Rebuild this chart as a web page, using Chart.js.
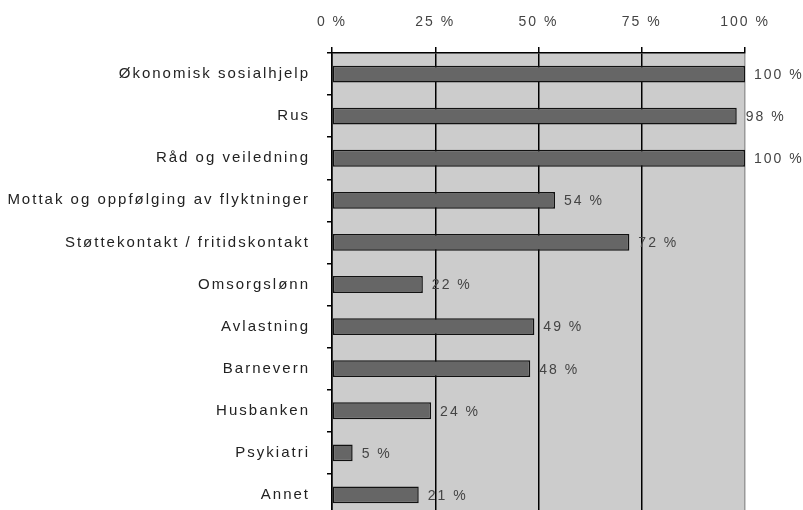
<!DOCTYPE html>
<html>
<head>
<meta charset="utf-8">
<script src="https://cdn.jsdelivr.net/npm/chart.js@4"></script>
<style>
  html, body { margin: 0; padding: 0; background: #fff; overflow: hidden; }
  #chart { display: block; }
</style>
</head>
<body>
<canvas id="chart" width="803" height="542"></canvas>
<script>
const categories = [
  "Økonomisk sosialhjelp",
  "Rus",
  "Råd og veiledning",
  "Mottak og oppfølging av flyktninger",
  "Støttekontakt / fritidskontakt",
  "Omsorgslønn",
  "Avlastning",
  "Barnevern",
  "Husbanken",
  "Psykiatri",
  "Annet"
];
const values = [100, 98, 100, 54, 72, 22, 49, 48, 24, 5, 21];
const xTicks = [0, 25, 50, 75, 100];

// wide letter spacing like the scanned original
const spacing = {
  id: "spacing",
  beforeUpdate(chart) { chart.ctx.letterSpacing = "2px"; },
  beforeLayout(chart) { chart.ctx.letterSpacing = "2px"; },
  beforeDraw(chart) { chart.ctx.letterSpacing = "2px"; }
};

const plotBg = {
  id: "plotBg",
  beforeDraw(chart) {
    const { ctx, chartArea: a } = chart;
    ctx.save();
    ctx.fillStyle = "#cccccc";
    ctx.fillRect(a.left, a.top, a.right - a.left, a.bottom - a.top);
    ctx.restore();
  }
};

const valueLabels = {
  id: "valueLabels",
  afterDatasetsDraw(chart) {
    const ctx = chart.ctx;
    const bars = chart.getDatasetMeta(0).data;
    ctx.save();
    ctx.font = "14px 'Liberation Sans', Arial, sans-serif";
    ctx.fillStyle = "#444";
    ctx.textAlign = "left";
    ctx.textBaseline = "middle";
    bars.forEach((bar, i) => {
      ctx.fillText(values[i] + " %", bar.x + 9, bar.y + 1);
    });
    ctx.restore();
  }
};

new Chart(document.getElementById("chart"), {
  type: "bar",
  data: {
    labels: categories,
    datasets: [{
      data: values,
      backgroundColor: "#666666",
      borderColor: "#111",
      borderWidth: 1.5,
      borderSkipped: false,
      barPercentage: 0.4,
      categoryPercentage: 1
    }]
  },
  options: {
    indexAxis: "y",
    responsive: false,
    animation: false,
    devicePixelRatio: 1,
    layout: { padding: { left: 0, right: 58, top: 0, bottom: 1 } },
    plugins: {
      legend: { display: false },
      tooltip: { enabled: false }
    },
    scales: {
      x: {
        position: "top",
        min: 0,
        max: 100,
        afterBuildTicks(scale) {
          scale.ticks = xTicks.map(v => ({ value: v }));
        },
        afterFit(scale) { scale.height = 53; },
        ticks: {
          callback: v => v + " %",
          font: { family: "'Liberation Sans', Arial, sans-serif", size: 14 },
          color: "#444",
          padding: 16,
          maxRotation: 0
        },
        grid: {
          color: c => (c.tick && c.tick.value === 100 ? "#999" : "#000"),
          lineWidth: 1.5,
          tickLength: 6,
          tickColor: "#000"
        },
        border: { display: true, color: "#000", width: 1.5 }
      },
      y: {
        afterFit(scale) { scale.width = 332; },
        ticks: {
          font: { family: "'Liberation Sans', Arial, sans-serif", size: 15 },
          color: "#222",
          padding: 17
        },
        grid: {
          drawOnChartArea: false,
          tickLength: 5,
          color: "#000",
          lineWidth: 1.5
        },
        border: { display: true, color: "#000", width: 1.5 }
      }
    }
  },
  plugins: [spacing, plotBg, valueLabels]
});
</script>
</body>
</html>
